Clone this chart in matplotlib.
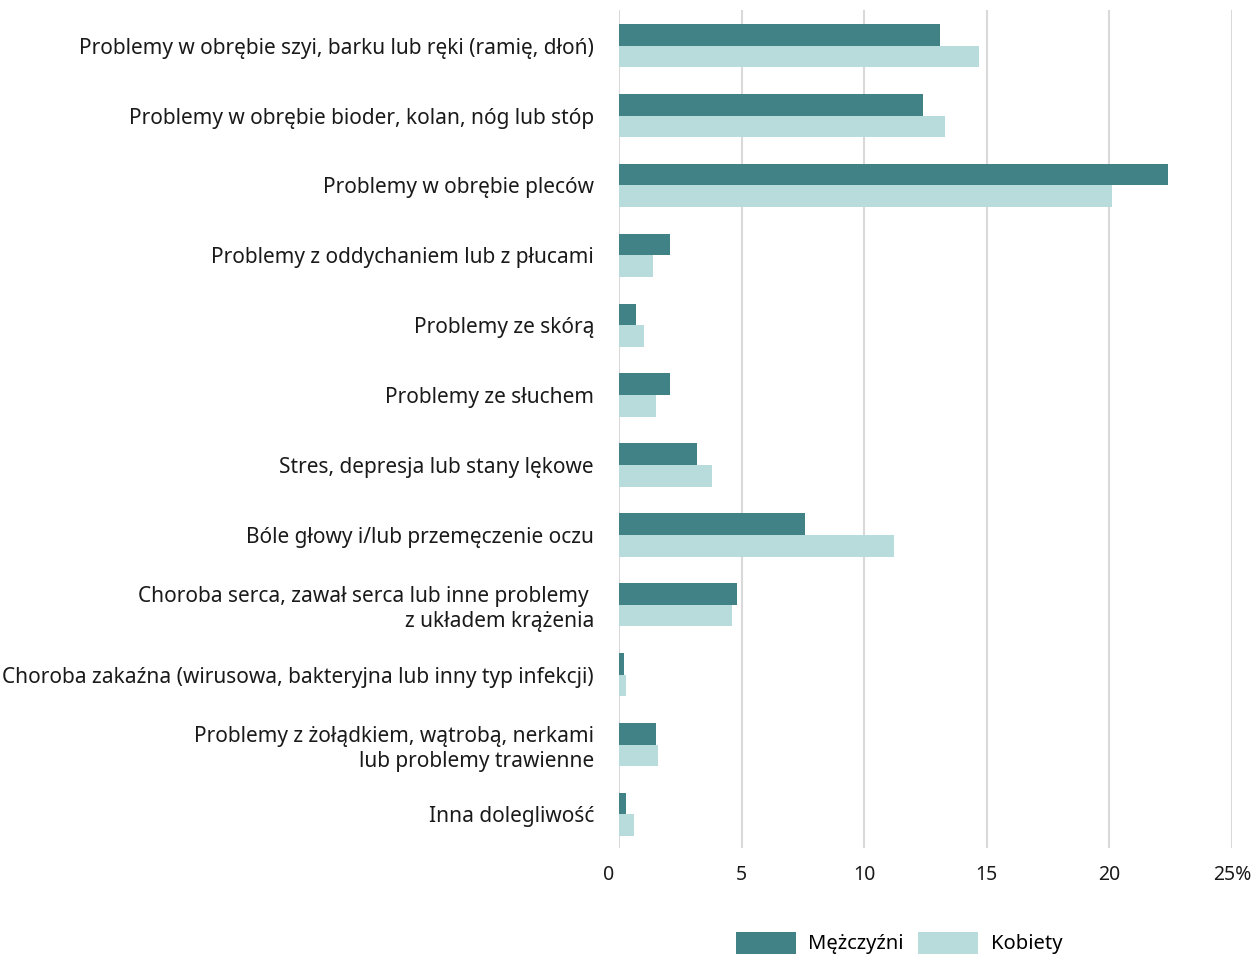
import matplotlib
matplotlib.use("Agg")
import matplotlib.pyplot as plt
import matplotlib.transforms as mtransforms
import numpy as np

plt.rcParams['font.family'] = ['Noto Sans', 'DejaVu Sans']

categories = [
    "Problemy w obrębie szyi, barku lub ręki (ramię, dłoń)",
    "Problemy w obrębie bioder, kolan, nóg lub stóp",
    "Problemy w obrębie pleców",
    "Problemy z oddychaniem lub z płucami",
    "Problemy ze skórą",
    "Problemy ze słuchem",
    "Stres, depresja lub stany lękowe",
    "Bóle głowy i/lub przemęczenie oczu",
    "Choroba serca, zawał serca lub inne problemy \nz układem krążenia",
    "Choroba zakaźna (wirusowa, bakteryjna lub inny typ infekcji)",
    "Problemy z żołądkiem, wątrobą, nerkami\nlub problemy trawienne",
    "Inna dolegliwość",
]
men = [13.1, 12.4, 22.4, 2.1, 0.7, 2.1, 3.2, 7.6, 4.8, 0.2, 1.5, 0.3]
women = [14.7, 13.3, 20.1, 1.4, 1.0, 1.5, 3.8, 11.2, 4.6, 0.3, 1.6, 0.6]
series_names = ["Mężczyźni", "Kobiety"]
xticks = [0, 5, 10, 15, 20, 25]
xtick_labels = ["0", "5", "10", "15", "20", "25%"]

c_men = "#418287"
c_women = "#b8dcdc"

fig = plt.figure(figsize=(12.53, 9.55), dpi=100)
ax = fig.add_axes([619 / 1253, 1 - 848 / 955, (1232 - 619) / 1253, (848 - 10) / 955])

y = np.arange(len(categories))
h = 0.31
ax.barh(y - h / 2, men, height=h, color=c_men, label=series_names[0], zorder=3)
ax.barh(y + h / 2, women, height=h, color=c_women, label=series_names[1], zorder=3)

ax.set_xlim(0, 25)
ax.set_ylim(11.48, -0.51)
ax.set_yticks(y)
ax.set_yticklabels(categories, fontsize=15, color="#1a1a1a", ha="right", linespacing=1.25)
ax.set_xticks(xticks)
ax.set_xticklabels(xtick_labels, fontsize=14, color="#1a1a1a")
ax.tick_params(axis="both", length=0)
ax.tick_params(axis="y", pad=18)
ax.tick_params(axis="x", pad=12)
ax.grid(axis="x", color="#d9d9d9", linewidth=1.5, zorder=0)
for s in ax.spines.values():
    s.set_visible(False)

# the "0" label sits a little left of its gridline
lbl0 = ax.get_xticklabels()[0]
lbl0.set_transform(lbl0.get_transform() + mtransforms.ScaledTranslation(-0.10, 0, fig.dpi_scale_trans))

fig.legend(loc="center", bbox_to_anchor=(899 / 1253, 1 - 943 / 955), ncol=2, frameon=False,
           fontsize=14.5, handlelength=3.0, handleheight=1.3, handletextpad=0.6, columnspacing=0.7)

fig.savefig("out.png", dpi=100)
